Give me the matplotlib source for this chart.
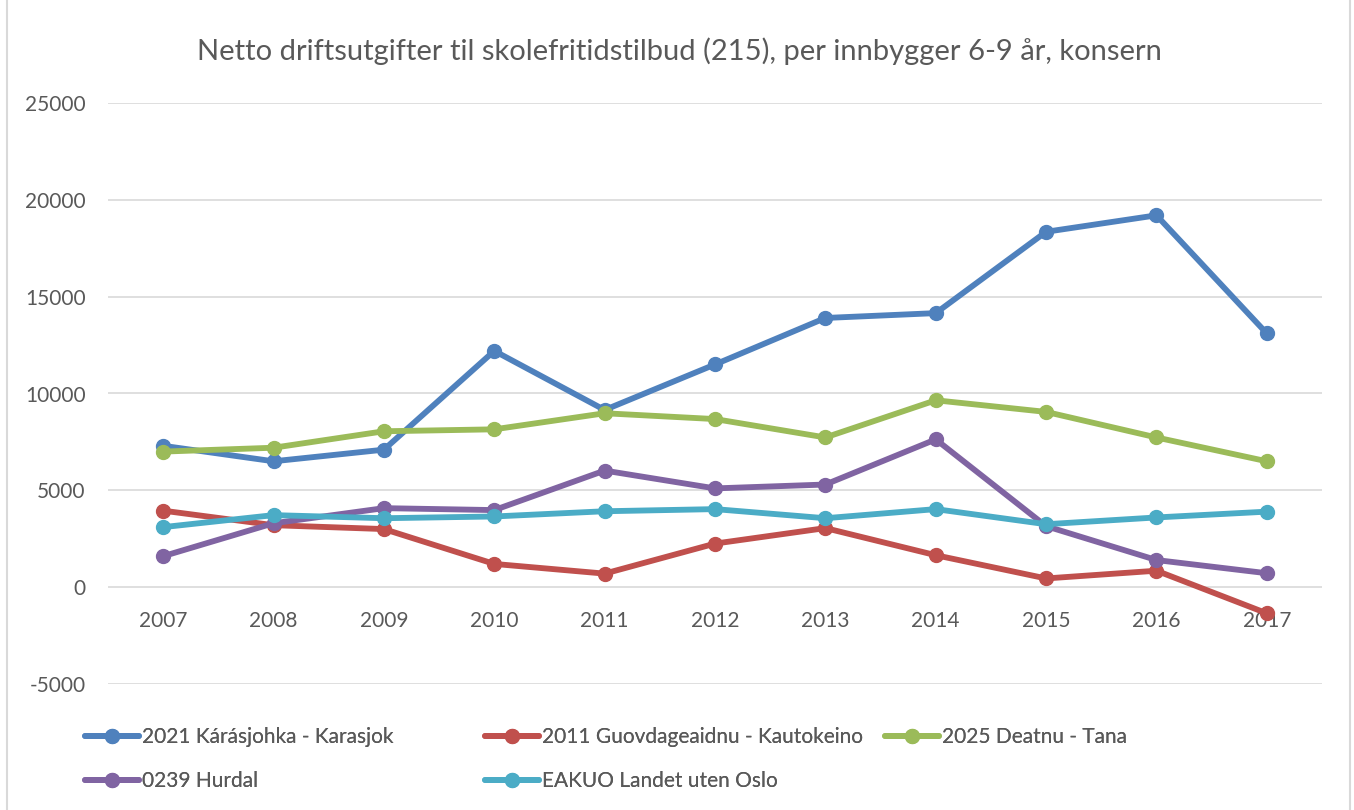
import matplotlib.pyplot as plt
from matplotlib.patches import Rectangle

plt.rcParams['font.family'] = ['Lato', 'DejaVu Sans']
plt.rcParams['axes.unicode_minus'] = False

years = [2007, 2008, 2009, 2010, 2011, 2012, 2013, 2014, 2015, 2016, 2017]

karasjok = [7300, 6500, 7100, 12200, 9150, 11500, 13900, 14150, 18350, 19200, 13100]
kautokeino = [3950, 3200, 3000, 1200, 700, 2250, 3050, 1650, 450, 850, -1350]
tana = [7000, 7200, 8050, 8150, 8980, 8680, 7730, 9650, 9050, 7730, 6500]
hurdal = [1600, 3300, 4080, 3980, 6020, 5100, 5300, 7630, 3150, 1400, 720]
landet = [3100, 3720, 3560, 3650, 3920, 4030, 3560, 4030, 3250, 3600, 3900]

series = [
    ('2021 Kárásjohka - Karasjok', karasjok, '#4F81BD'),
    ('2011 Guovdageaidnu - Kautokeino', kautokeino, '#C0504D'),
    ('2025 Deatnu - Tana', tana, '#9BBB59'),
    ('0239 Hurdal', hurdal, '#8064A2'),
    ('EAKUO Landet uten Oslo', landet, '#4BACC6'),
]

title = 'Netto driftsutgifter til skolefritidstilbud (215), per innbygger 6-9 år, konsern'

text_col = '#595959'
grid_col = '#D9D9D9'

fig = plt.figure(figsize=(13.54, 8.10), dpi=100)
ax = fig.add_axes([108 / 1354, 1 - 684 / 810, (1322 - 108) / 1354, (684 - 103) / 810])

handles = {}
for name, vals, col in series:
    h, = ax.plot(range(len(years)), vals, color=col, lw=4.2, marker='o',
                 markersize=10, solid_capstyle='round', label=name)
    handles[name] = h

ax.set_xlim(-0.5, len(years) - 0.5)
ax.set_ylim(-5000, 25000)
ax.set_yticks(range(-5000, 25001, 5000))
ax.yaxis.grid(True, color=grid_col, lw=1.2)
ax.set_axisbelow(True)
for s in ax.spines.values():
    s.set_visible(False)

# category labels sit just under the zero line
ax.spines['bottom'].set_position(('data', 0))
ax.set_xticks(range(len(years)))
ax.set_xticklabels([str(y) for y in years])
ax.tick_params(axis='x', length=0, pad=17, labelsize=15, labelcolor=text_col)
ax.tick_params(axis='y', length=0, pad=16, labelsize=15, labelcolor=text_col)

fig.text(679 / 1354, 1 - 51 / 810, title, ha='center', va='center',
         fontsize=21, color=text_col)

# legend laid out in three columns below the plot
cols = [
    (85, ['2021 Kárásjohka - Karasjok', '0239 Hurdal']),
    (485, ['2011 Guovdageaidnu - Kautokeino', 'EAKUO Landet uten Oslo']),
    (885, ['2025 Deatnu - Tana']),
]
for x0, names in cols:
    leg = fig.legend([handles[n] for n in names], names,
                     loc='upper left', bbox_to_anchor=(x0 / 1354, 1 - 727 / 810),
                     frameon=False, handlelength=2.6, handletextpad=0.15,
                     labelspacing=1.15, borderpad=0, borderaxespad=0,
                     prop={'size': 15})
    for t in leg.get_texts():
        t.set_color(text_col)
    fig.add_artist(leg)

fig.add_artist(Rectangle((7 / 1354, -0.01), (1350 - 7) / 1354, 1.02,
                         transform=fig.transFigure, fill=False,
                         edgecolor=grid_col, lw=1.5))

fig.savefig('out.png', dpi=100, facecolor='white')
